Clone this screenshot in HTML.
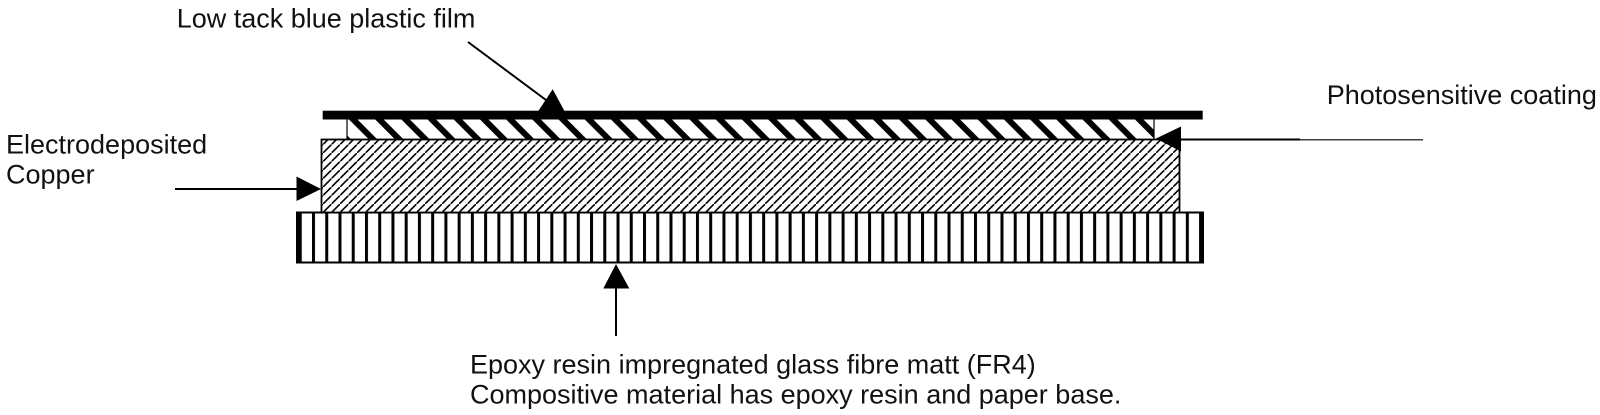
<!DOCTYPE html>
<html>
<head>
<meta charset="utf-8">
<style>
  html, body { margin: 0; padding: 0; background: #fff; }
  svg { display: block; }
  text { font-family: "Liberation Sans", Arial, sans-serif; font-size: 27px; fill: #111; }
</style>
</head>
<body>
<svg width="1600" height="415" viewBox="0 0 1600 415" xmlns="http://www.w3.org/2000/svg">
  <defs>
    <!-- copper diagonal hatch "/" -->
    <pattern id="cu" patternUnits="userSpaceOnUse" x="0" y="0" width="8.5" height="8.5">
      <path d="M-2,10.5 L10.5,-2" stroke="#000" stroke-width="1.6" fill="none"/>
    </pattern>
    <!-- photosensitive coating thick "\" stripes -->
    <pattern id="coat" patternUnits="userSpaceOnUse" x="349" y="119.5" width="26.2" height="20">
      <polygon points="0,0 8.5,0 28.5,20 20,20" fill="#000"/>
      <polygon points="-26.2,0 -17.7,0 2.3,20 -6.2,20" fill="#000"/>
    </pattern>
    <!-- base vertical stripes -->
    <pattern id="base" patternUnits="userSpaceOnUse" x="312" y="0" width="13.24" height="415">
      <rect x="0" y="0" width="3" height="415" fill="#000"/>
    </pattern>
  </defs>

  <!-- Base FR4 layer -->
  <rect x="297" y="212.5" width="906" height="50" fill="#fff"/>
  <rect x="297" y="212.5" width="906" height="50" fill="url(#base)"/>
  <rect x="297" y="212.5" width="906" height="50" fill="none" stroke="#000" stroke-width="2"/>
  <rect x="297" y="212.5" width="3" height="50" fill="#000"/>

  <!-- Copper layer -->
  <rect x="321.5" y="139.5" width="858" height="73" fill="#fff"/>
  <rect x="321.5" y="139.5" width="858" height="73" fill="url(#cu)"/>
  <rect x="321.5" y="139.5" width="858" height="73" fill="none" stroke="#000" stroke-width="1.8"/>

  <!-- Photosensitive coating -->
  <rect x="346.7" y="119.5" width="807.6" height="20" fill="url(#coat)"/>
  <line x1="347" y1="119" x2="347" y2="140" stroke="#000" stroke-width="1.2"/>
  <line x1="1154" y1="119" x2="1154" y2="140" stroke="#000" stroke-width="1.2"/>

  <!-- Top black bar (plastic film) -->
  <rect x="322.7" y="110.7" width="880" height="8.8" fill="#000"/>

  <!-- Low tack arrow -->
  <line x1="468" y1="42" x2="546" y2="100" stroke="#000" stroke-width="2"/>
  <polygon points="552.7,89.3 538.3,111 564.5,111" fill="#000"/>

  <!-- Photosensitive coating arrow -->
  <line x1="1180" y1="139.5" x2="1300" y2="139.5" stroke="#000" stroke-width="2"/>
  <line x1="1300" y1="139.8" x2="1423" y2="139.8" stroke="#000" stroke-width="1.2"/>
  <polygon points="1156,138.5 1181,126.5 1181,151.5" fill="#000"/>

  <!-- Electrodeposited copper arrow -->
  <line x1="175" y1="189" x2="298" y2="189" stroke="#000" stroke-width="2"/>
  <polygon points="321,189 296.5,176.5 296.5,201" fill="#000"/>

  <!-- FR4 arrow -->
  <line x1="616" y1="286" x2="616" y2="336" stroke="#000" stroke-width="2"/>
  <polygon points="616,264 603.3,288.5 629.3,288.5" fill="#000"/>

  <!-- Labels -->
  <text x="176.7" y="27.5">Low tack blue plastic film</text>
  <text x="1326.7" y="104">Photosensitive coating</text>
  <text x="6" y="153.3">Electrodeposited</text>
  <text x="6" y="183.3">Copper</text>
  <text x="470" y="373.5">Epoxy resin impregnated glass fibre matt (FR4)</text>
  <text x="470" y="403.3">Compositive material has epoxy resin and paper base.</text>
</svg>
</body>
</html>
